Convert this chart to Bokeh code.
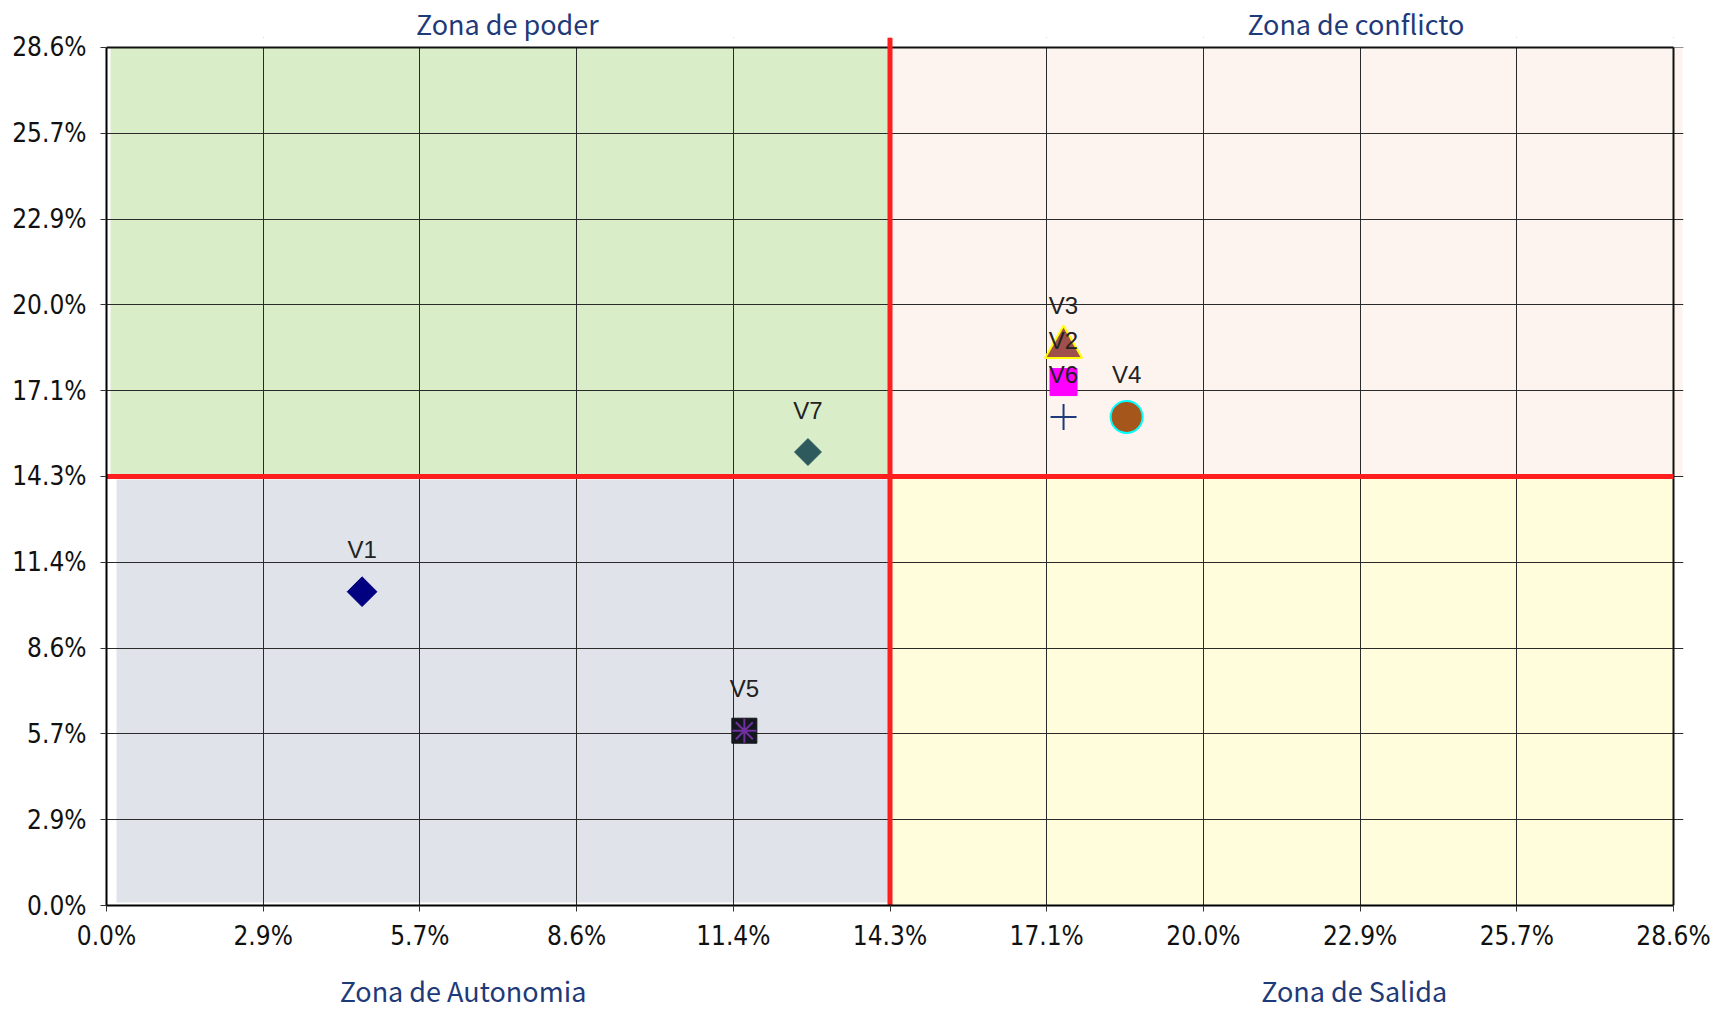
import math
from bokeh.plotting import figure
from bokeh.models import Range1d, FixedTicker, ColumnDataSource, LabelSet, LinearAxis
from bokeh.embed import file_html
from bokeh.resources import INLINE
from bokeh.core.properties import value

# ---- data ----
names = ["V1", "V2", "V3", "V4", "V5", "V6", "V7"]
dependencia = [0.0466, 0.1745, 0.1745, 0.1860, 0.1163, 0.1745, 0.1279]   # x
influencia = [0.1045, 0.1743, 0.1859, 0.1627, 0.0582, 0.1627, 0.1510]    # y

tick_values = [0.0, 1/35, 2/35, 3/35, 4/35, 5/35, 6/35, 7/35, 8/35, 9/35, 10/35]
tick_labels = ["0.0%", "2.9%", "5.7%", "8.6%", "11.4%", "14.3%", "17.1%",
               "20.0%", "22.9%", "25.7%", "28.6%"]
axis_max = 10/35
midpoint = 5/35

top_zones = ["Zona de poder", "Zona de conflicto"]
bottom_zones = ["Zona de Autonomia", "Zona de Salida"]
top_zone_x = [0.0731, 0.2278]
bottom_zone_x = [0.0650, 0.2275]

# ---- styles ----
markers = ["square", "square", "triangle", "circle", "square", "cross", "square"]
sizes = [21, 27, 37, 32, 25, 26, 19]
angles = [math.pi/4, 0, 0, 0, 0, 0, math.pi/4]
fills = ["#000080", "#FF00FF", "#A0504A", "#A5561B", "#14171C", "#1F3A78", "#2E5A5E"]
lines = ["#000080", "#FF00FF", "#FFFF00", "#00FFFF", "#14171C", "#1F3A78", "#2E5A5E"]
lwidths = [1, 1, 2, 2, 1, 2, 1]

FW, FH = 1567, 859
dx = axis_max / FW
dy = axis_max / FH
pad_top = 10 * dy
pad_right = 10 * dx

p = figure(width=1713, height=1013,
           x_range=Range1d(0, axis_max + pad_right),
           y_range=Range1d(0, axis_max + pad_top),
           output_backend="svg", toolbar_location=None,
           min_border_left=106, min_border_right=30,
           min_border_top=36, min_border_bottom=108)
p.outline_line_color = None
p.background_fill_color = "white"
p.border_fill_color = "white"

# quadrant backgrounds (slightly inset as in the original)
p.quad(left=[4 * dx, midpoint, 10 * dx, midpoint],
       right=[midpoint, axis_max + 9 * dx, midpoint, axis_max],
       bottom=[midpoint, midpoint, 3 * dy, 0],
       top=[axis_max, axis_max, midpoint - 3 * dy, midpoint],
       fill_color=["#D9EEC8", "#FDF4EF", "#E0E3E9", "#FFFDDC"],
       line_color=None, level="image")

# grid
for g in (p.xgrid, p.ygrid):
    g.ticker = FixedTicker(ticks=tick_values)
    g.grid_line_color = "#2a2a2a"
    g.grid_line_width = 1

# cover grid above plot area
p.quad(left=[0], right=[axis_max + pad_right], bottom=[axis_max], top=[axis_max + pad_top],
       fill_color="white", line_color=None)

# borders
p.segment(x0=[0, axis_max], y0=[axis_max, 0], x1=[axis_max, axis_max], y1=[axis_max, axis_max],
          line_color="#111111", line_width=2)

# red mid lines
p.segment(x0=[0], y0=[midpoint], x1=[axis_max], y1=[midpoint],
          line_color="#FF1E1E", line_width=5)
p.segment(x0=[midpoint], y0=[0], x1=[midpoint], y1=[axis_max + pad_top],
          line_color="#FF1E1E", line_width=5)

# axes
for ax in (p.xaxis[0], p.yaxis[0]):
    ax.ticker = FixedTicker(ticks=tick_values)
    ax.major_label_overrides = {v: l for v, l in zip(tick_values, tick_labels)}
    ax.bounds = (0, axis_max)
    ax.axis_line_color = "#000000"
    ax.axis_line_width = 2
    ax.major_tick_line_color = "#333333"
    ax.major_tick_out = 6
    ax.major_tick_in = 0
    ax.minor_tick_line_color = None
    ax.major_label_text_font = "DejaVu Sans Condensed"
    ax.major_label_text_font_size = "26px"
    ax.major_label_text_color = "#111111"
p.xaxis[0].major_label_standoff = 9
p.yaxis[0].major_label_standoff = 14


def zone_axis(xs, texts, standoff):
    a = LinearAxis(ticker=FixedTicker(ticks=xs),
                   major_label_overrides={v: t for v, t in zip(xs, texts)})
    a.axis_line_color = None
    a.major_tick_line_color = None
    a.minor_tick_line_color = None
    a.major_tick_out = 0
    a.major_tick_in = 0
    a.major_label_standoff = standoff
    a.major_label_text_font = "Noto Sans CJK JP"
    a.major_label_text_font_size = "27px"
    a.major_label_text_color = "#1F3A78"
    return a


p.add_layout(zone_axis(top_zone_x, top_zones, -5), "above")
p.add_layout(zone_axis(bottom_zone_x, bottom_zones, 17), "below")

src = ColumnDataSource(dict(x=dependencia, y=influencia, name=names, marker=markers,
                            size=sizes, angle=angles, fill=fills, line=lines, lw=lwidths))
p.scatter(x="x", y="y", marker="marker", size="size", angle="angle",
          fill_color="fill", line_color="line", line_width="lw", source=src)
# V5 asterisk overlay
i5 = names.index("V5")
p.scatter(x=[dependencia[i5]], y=[influencia[i5]], marker="asterisk", size=24,
          line_color="#7030A0", line_width=2)

labels = LabelSet(x="x", y="y", text="name", source=src, y_offset=42,
                  text_align="center", text_baseline="middle",
                  text_font=value("Liberation Sans"), text_font_size="24px",
                  text_color="#222222")
p.add_layout(labels)

open("out.html", "w").write(file_html(p, INLINE))
